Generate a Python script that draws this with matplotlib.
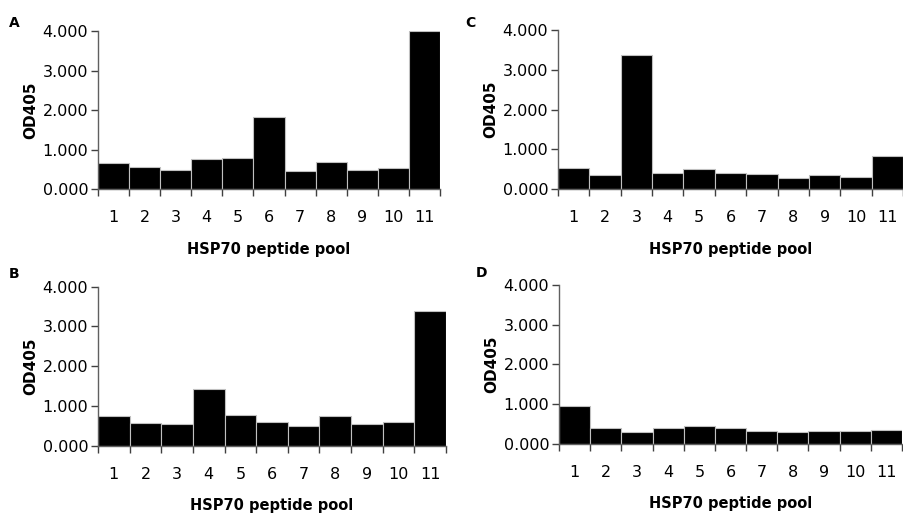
import matplotlib
matplotlib.use("Agg")
import matplotlib.pyplot as plt
import numpy as np

POOLS = [str(i) for i in range(1, 12)]

OD_A = [0.66, 0.56, 0.49, 0.76, 0.79, 1.82, 0.45, 0.69, 0.49, 0.52, 4.00]
OD_B = [0.74, 0.57, 0.54, 1.42, 0.77, 0.60, 0.50, 0.74, 0.54, 0.60, 3.39]
OD_C = [0.54, 0.34, 3.36, 0.40, 0.50, 0.40, 0.37, 0.27, 0.34, 0.30, 0.84]
OD_D = [0.96, 0.39, 0.29, 0.39, 0.45, 0.39, 0.32, 0.29, 0.32, 0.32, 0.35]

Y_TICKS = [0, 1, 2, 3, 4]

PANELS = [
    # letter, values, axes rect, letter position
    ("A", OD_A, [0.1084, 0.633, 0.3783, 0.3068], (0.016, 0.955)),
    ("C", OD_C, [0.6173, 0.633, 0.3816, 0.3087], (0.520, 0.955)),
    ("B", OD_B, [0.1084, 0.1346, 0.3850, 0.3087], (0.016, 0.468)),
    ("D", OD_D, [0.6184, 0.1384, 0.3794, 0.3082], (0.533, 0.470)),
]

plt.rcParams["font.family"] = "DejaVu Sans"

fig = plt.figure(figsize=(9.04, 5.15), dpi=100)
fig.patch.set_facecolor("white")

x = np.arange(1, len(POOLS) + 1)

for letter, values, rect, (lx, ly) in PANELS:
    ax = fig.add_axes(rect)
    ax.bar(x, values, width=1.0, color="black",
           edgecolor="#c0c0c0", linewidth=0.8)
    ax.set_xlim(0.5, len(POOLS) + 0.5)
    ax.set_ylim(0, 4)

    ax.set_xticks(x)
    ax.set_xticklabels(POOLS, fontsize=11.5)
    ax.set_xticks(np.arange(0.5, len(POOLS) + 1), minor=True)
    ax.tick_params(axis="x", which="major", length=0, pad=15)
    ax.tick_params(axis="x", which="minor", length=5, width=1,
                   color="#404040", direction="out")

    ax.set_yticks(Y_TICKS)
    ax.set_yticklabels([f"{v:.3f}" for v in Y_TICKS], fontsize=11.5)
    ax.tick_params(axis="y", length=5, width=1, color="#404040", pad=2)

    for side in ("top", "right"):
        ax.spines[side].set_visible(False)
    for side in ("left", "bottom"):
        ax.spines[side].set_color("#606060")
        ax.spines[side].set_linewidth(1)

    ax.set_xlabel("HSP70 peptide pool", fontsize=10.5, fontweight="bold",
                  labelpad=12)
    ax.set_ylabel("OD405", fontsize=11, fontweight="bold", labelpad=3)

    fig.text(lx, ly, letter, fontsize=10, fontweight="bold",
             ha="center", va="center")

fig.savefig("out.png", dpi=100, facecolor="white")
